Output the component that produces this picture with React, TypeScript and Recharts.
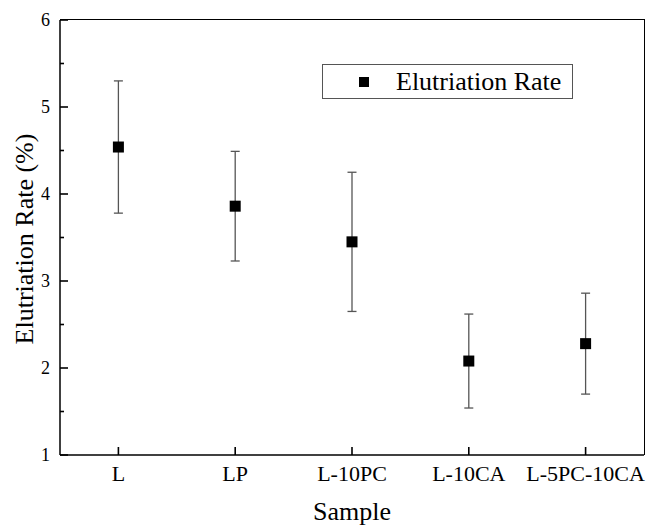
import React from 'react';
import {
  ComposedChart,
  Line,
  XAxis,
  YAxis,
  ErrorBar,
  Legend,
} from 'recharts';

const categories = ['L', 'LP', 'L-10PC', 'L-10CA', 'L-5PC-10CA'];
const rates = [4.54, 3.86, 3.45, 2.08, 2.28];
const errors = [0.76, 0.63, 0.8, 0.54, 0.58];
const yTicks = [1, 1.5, 2, 2.5, 3, 3.5, 4, 4.5, 5, 5.5, 6];

const data = categories.map((name, i) => ({ name, rate: rates[i], err: errors[i] }));

const FONT = '"Liberation Serif", "Times New Roman", serif';

const XTick = (props: any) => {
  const { x, y, payload } = props;
  return (
    <g>
      <path d={`M${x},${y}L${x},${y - 8}`} stroke="#000" strokeWidth={1.6} />
      <text x={x} y={y + 26} textAnchor="middle" fontFamily={FONT} fontSize={22} fill="#000">
        {payload.value}
      </text>
    </g>
  );
};

const YTick = (props: any) => {
  const { x, y, payload } = props;
  const major = Number.isInteger(payload.value);
  return (
    <g>
      <path d={`M${x},${y}L${x + (major ? 8 : 4)},${y}`} stroke="#000" strokeWidth={1.6} />
      {major && (
        <text x={x - 10} y={y + 6} textAnchor="end" fontFamily={FONT} fontSize={18} fill="#000">
          {payload.value}
        </text>
      )}
    </g>
  );
};

const SquareDot = (props: any) => {
  const { cx, cy } = props;
  if (cx == null || cy == null) return null;
  return <rect x={cx - 5.5} y={cy - 5.5} width={11} height={11} fill="#000" />;
};

const LegendBox = () => (
  <div style={{
    width: 249,
    height: 33,
    border: '1px solid #555',
    background: '#fff',
    display: 'flex',
    alignItems: 'center',
    fontFamily: FONT,
    fontSize: 26,
    color: '#000',
  }}>
    <div style={{ width: 10, height: 10, background: '#000', marginLeft: 36, marginRight: 27 }} />
    <span>Elutriation Rate</span>
  </div>
);

const axisLine = { stroke: '#000', strokeWidth: 1.5 };

export default function App() {
  return (
    <div style={{ position: 'absolute', left: 0, top: 0, width: 646, height: 526, background: '#fff' }}>
      <ComposedChart
        width={646}
        height={526}
        data={data}
        margin={{ top: 20, right: 2, bottom: 0, left: 0 }}
      >
        <XAxis
          dataKey="name"
          scale="band"
          height={71}
          interval={0}
          tickSize={0}
          tickMargin={0}
          tickLine={false}
          tick={<XTick />}
          axisLine={axisLine}
          label={{
            content: () => (
              <text x={352} y={520} textAnchor="middle" fontFamily={FONT} fontSize={26} fill="#000">
                Sample
              </text>
            ),
          }}
        />
        <YAxis
          type="number"
          domain={[1, 6]}
          ticks={yTicks}
          interval={0}
          width={60}
          tickSize={0}
          tickMargin={0}
          tickLine={false}
          tick={<YTick />}
          axisLine={axisLine}
          label={{
            content: () => (
              <text
                x={33}
                y={239}
                transform="rotate(-90 33 239)"
                textAnchor="middle"
                fontFamily={FONT}
                fontSize={26}
                fill="#000"
              >
                Elutriation Rate (%)
              </text>
            ),
          }}
        />
        <Legend
          verticalAlign="middle"
          layout="horizontal"
          content={() => <LegendBox />}
          wrapperStyle={{ left: 322, top: 64, width: 251, height: 35 }}
        />
        <Line
          dataKey="rate"
          name="Elutriation Rate"
          stroke="none"
          dot={<SquareDot />}
          activeDot={false}
          legendType="square"
          isAnimationActive={false}
        >
          <ErrorBar dataKey="err" direction="y" width={4.5} stroke="#555" strokeWidth={1.3} />
        </Line>
      </ComposedChart>
      {/* top and right edges of the plot frame */}
      <div style={{
        position: 'absolute',
        left: 60,
        top: 19.25,
        width: 584.75,
        height: 436,
        boxSizing: 'border-box',
        borderTop: '1.5px solid #000',
        borderRight: '1.5px solid #000',
        pointerEvents: 'none',
      }} />
    </div>
  );
}
